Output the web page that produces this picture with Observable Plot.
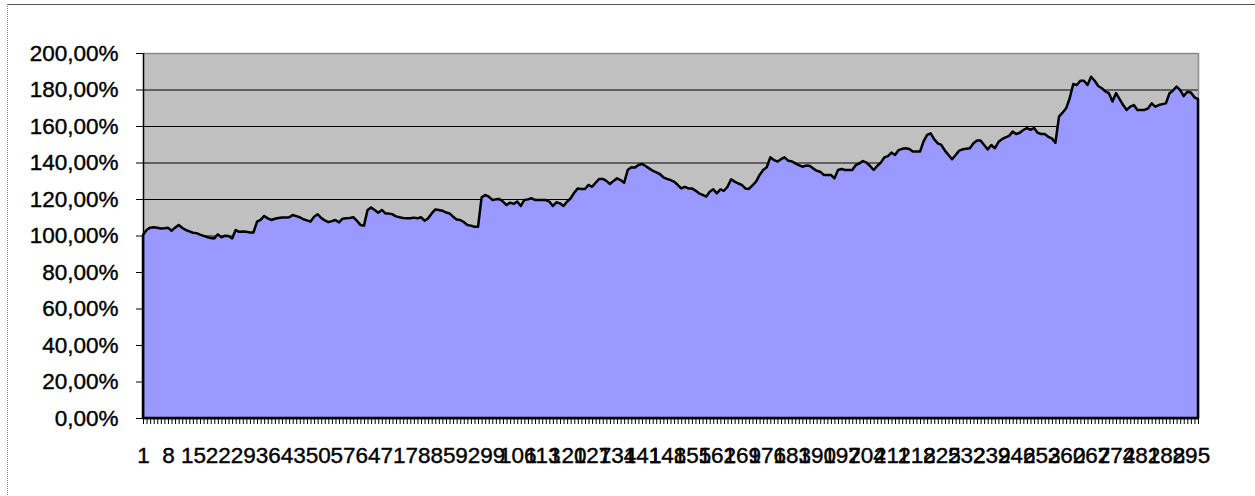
<!DOCTYPE html>
<html>
<head>
<meta charset="utf-8">
<script src="https://cdn.jsdelivr.net/npm/d3@7"></script>
<script src="https://cdn.jsdelivr.net/npm/@observablehq/plot@0.6"></script>
<style>
  html, body { margin: 0; padding: 0; background: #fff; }
  #wrap { position: relative; width: 1255px; height: 496px; overflow: hidden; }
  #border { position: absolute; left: 7px; top: 4px; width: 1300px; height: 600px;
            border-top: 1px solid #555; border-left: 1px dotted #888; pointer-events: none; }
</style>
</head>
<body>
<div id="wrap"><div id="border"></div></div>
<script>
// Series values (percent), one per category 1..297
const values = [
  100.3, 103, 104.3, 104.5, 104.2, 103.8, 104, 104.3, 102.6, 104.3,
  105.8, 104.2, 103, 102.3, 101.5, 101.3, 100.5, 99.8, 99.1, 98.6,
  98.4, 100.6, 99, 99.9, 99.7, 98.4, 103, 102, 102.2, 102,
  101.7, 101.7, 107.6, 108.6, 110.7, 109.4, 108.5, 109.2, 109.6, 109.8,
  109.9, 110, 111.2, 110.6, 110, 108.9, 108.3, 107.6, 110.3, 111.6,
  109.6, 108.3, 107.3, 107.9, 108.5, 107.2, 109.2, 109.4, 109.6, 110,
  108.1, 105.8, 105.4, 114, 115.4, 114, 112.5, 114, 112.1, 112,
  111.6, 110.5, 110, 109.6, 109.5, 109.4, 109.8, 109.4, 110, 108.1, 109.4,
  112.1, 114.3, 114, 113.6, 112.6, 112.1, 110.3, 108.8, 108.5, 107.4,
  105.8, 105.4, 104.8, 104.8, 120.9, 122.2, 121.3, 119.5, 119.8, 120,
  118.6, 116.7, 118, 117.3, 118.6, 116.2, 119.5, 119.8, 120.4, 119.5,
  119.5, 119.5, 119.4, 118.6, 116.2, 118.2, 117.6, 116.2, 118.6, 120.4,
  123.5, 125.8, 125.5, 125.5, 127.7, 126.7, 128.9, 131, 131, 129.9,
  128.2, 129.9, 131.3, 130.4, 128.9, 135.9, 137.4, 137.2, 138.6, 139.2,
  138.1, 136.8, 135.5, 134.6, 133.7, 131.9, 131, 130.4, 129.5, 127.8,
  125.8, 126.7, 125.8, 125.8, 124.6, 123.1, 122.2, 121.3, 124, 125.3,
  123.1, 125.3, 124.5, 126.7, 130.8, 129.5, 128.5, 127.7, 125.8, 125.5,
  127.5, 129.5, 133.2, 135.9, 137.4, 142.8, 141.4, 140.5, 141.8, 142.8,
  141, 140.7, 139.5, 138.6, 137.7, 138.3, 138.2, 136.8, 135.5, 134.9,
  133.2, 133.2, 133.2, 131.3, 135.9, 136.4, 135.9, 135.9, 135.9, 138.6,
  139.5, 140.8, 139.9, 138.1, 135.9, 138.1, 139.9, 142.8, 143.5, 145.4,
  144.1, 146.8, 147.5, 147.8, 147.4, 146, 146, 146, 151.6, 155.1,
  156, 152.7, 150.5, 149.6, 146.5, 144.1, 141.8, 144.1, 146.5, 147.2, 147.5,
  147.8, 150.5, 152, 152, 149.6, 147.2, 149.6, 147.8, 151.2, 152.8,
  153.8, 154.6, 156.9, 155.6, 156.3, 157.8, 158.9, 157.9, 158.9, 156.3,
  155.6, 155.6, 154.1, 153.2, 150.8, 165.1, 167.3, 169.7, 175.2, 183,
  182.5, 184.8, 184.8, 182.5, 187, 184.8, 181.9, 180.7, 179, 178,
  173.4, 178, 174.7, 171.5, 168.8, 170.6, 171.5, 168.8, 168.8, 168.8,
  169.7, 172.4, 170.6, 171.5, 172, 172.4, 178, 179.5, 181.6, 179.7,
  176.4, 178.8, 178.4, 175.7, 174.7
];
// Categories 1..N
const categories = values.map((_, i) => i + 1);
// Category tick labels shown (every 7th category)
const xLabels = categories.filter((d, i) => i % 7 === 0);
// Y tick values (percent)
const yTicks = [0, 20, 40, 60, 80, 100, 120, 140, 160, 180, 200];
const gridLines = [20, 40, 60, 80, 100, 120, 140, 160, 180];

const data = categories.map((c, i) => ({cat: c, value: values[i]}));
const labelSet = new Set(xLabels);
const fmtPct = v => v.toFixed(2).replace(".", ",") + "%";

const chart = Plot.plot({
  width: 1255,
  height: 496,
  marginLeft: 143,
  marginRight: 57,
  marginTop: 53,
  marginBottom: 78,
  style: {fontFamily: "'Liberation Sans', Arial, sans-serif", fontSize: "22.5px", color: "black", background: "transparent", overflow: "visible"},
  x: {type: "linear", domain: [categories[0], categories[categories.length - 1]]},
  y: {domain: [0, 200]},
  marks: [
    Plot.frame({fill: "#C0C0C0", stroke: null}),
    Plot.ruleY(gridLines, {stroke: "black", strokeWidth: 1}),
    Plot.ruleY([200], {stroke: "#8a8a8a", strokeWidth: 1.5}),
    Plot.ruleX([categories[categories.length - 1]], {stroke: "#8a8a8a", strokeWidth: 1.5}),
    Plot.areaY(data, {x: "cat", y: "value", fill: "#9999FF", stroke: "black", strokeWidth: 2.5, strokeLinejoin: "round"}),
    Plot.ruleX([categories[0]], {stroke: "black", strokeWidth: 1.5}),
    Plot.ruleY([0], {stroke: "black", strokeWidth: 1.5}),
    Plot.axisY({ticks: yTicks, tickFormat: fmtPct, tickSize: 7, tickPadding: 18, label: null, stroke: "black", textStroke: "black", textStrokeWidth: 0.4}),
    Plot.axisX({ticks: categories, tickFormat: d => labelSet.has(d) ? String(d) : "", tickSize: 6, tickPadding: 23, label: null, stroke: "black", strokeOpacity: 1, textOverflow: null, textStroke: "black", textStrokeWidth: 0.4})
  ]
});
document.getElementById("wrap").prepend(chart);
chart.style.position = "absolute";
chart.style.left = "0px";
chart.style.top = "0px";
</script>
</body>
</html>
